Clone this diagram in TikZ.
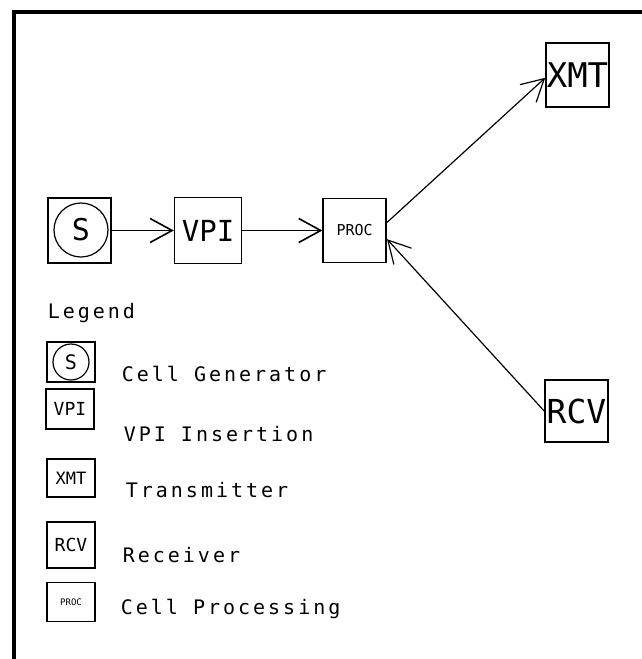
\documentclass[tikz,border=0pt]{standalone}
\usepackage{fontspec}
\usepackage{tikz}
\usetikzlibrary{arrows.meta, positioning}
\newfontfamily\plotfont{DejaVu Sans Mono}
\newfontfamily\legendfont[LetterSpace=15]{DejaVu Sans Mono}

\begin{document}
\begin{tikzpicture}[x=0.5pt, y=-0.5pt, line width=0.8pt, >={Straight Barb[length=11pt, width=12pt]}]
    \tikzstyle{unit} = [draw, rectangle, minimum width=31.5pt, minimum height=32pt, inner sep=0pt, font=\plotfont]
    \tikzstyle{key} = [draw, rectangle, minimum width=24pt, minimum height=20pt, inner sep=0pt, font=\plotfont]
    \tikzstyle{note} = [anchor=base west, inner sep=0pt, font=\legendfont\fontsize{10}{12}\selectfont]

    \useasboundingbox (0,0) rectangle (642,659);
    \draw[line width=2pt] (14,659) -- (14,12) -- (642,12);

    % signal chain
    \node [unit, minimum height=32.5pt] (gen) at (79.5,230.5) {};
    \node [draw, circle, minimum size=27pt, inner sep=0pt, line width=0.6pt, font=\plotfont\fontsize{15}{15}\selectfont] (gensym) at (81,230) {S};
    \node [unit, minimum width=33.5pt, minimum height=33pt, right=31pt of gen, font=\plotfont\fontsize{14.5}{14.5}\selectfont] (vpi) {VPI};
    \node [unit, right=40pt of vpi, font=\plotfont\fontsize{7.5}{7.5}\selectfont] (proc) {PROC};
    \node [unit, font=\plotfont\fontsize{17}{17}\selectfont] (xmt) at (577.5,75) {XMT};
    \node [unit, minimum height=31pt, font=\plotfont\fontsize{16.5}{16.5}\selectfont] (rcv) at (576.5,411) {RCV};

    \draw[->] (gen) -- (vpi);
    \draw[->] (vpi) -- (proc);
    \draw[->, line width=0.6pt] (proc.14) -- (xmt.185);
    \draw[->, line width=0.6pt] (rcv.west) -- (proc.-15);

    % legend
    \node [note] (legend) at (47,318) {Legend};
    \node [key] (lgen) at (71,362) {};
    \node [draw, circle, minimum size=18pt, inner sep=0pt, line width=0.6pt, font=\plotfont\fontsize{10}{10}\selectfont] (lgensym) at (lgen) {S};
    \node [key, minimum height=20pt, font=\plotfont\fontsize{9}{9}\selectfont] (lvpi) at (70,409) {VPI};
    \node [key, minimum height=19pt, font=\plotfont\fontsize{8.5}{8.5}\selectfont] (lxmt) at (71,478) {XMT};
    \node [key, minimum height=23pt, font=\plotfont\fontsize{9}{9}\selectfont] (lrcv) at (71,545) {RCV};
    \node [key, minimum height=19.5pt, font=\plotfont\fontsize{4.5}{4.5}\selectfont] (lproc) at (71,602) {PROC};

    \node [note] (tgen) at (121,381) {Cell Generator};
    \node [note] (tvpi) at (123,441) {VPI Insertion};
    \node [note] (txmt) at (125,497) {Transmitter};
    \node [note] (trcv) at (122,562) {Receiver};
    \node [note] (tproc) at (120,614) {Cell Processing};
\end{tikzpicture}
\end{document}
